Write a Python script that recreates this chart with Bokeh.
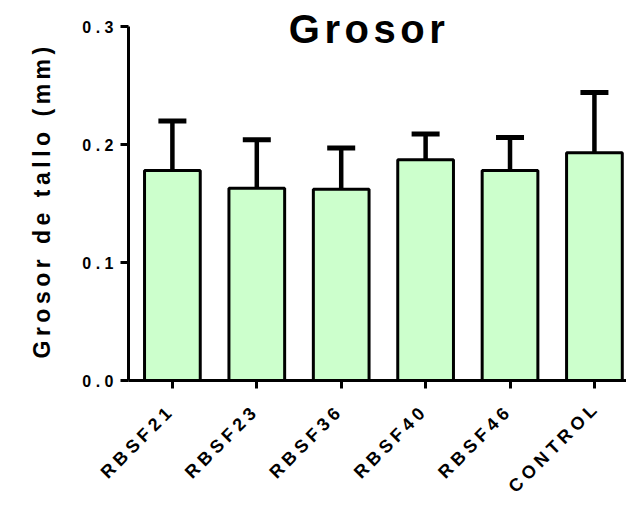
import math
from bokeh.plotting import figure
from bokeh.models import (FixedTicker, Whisker, TeeHead, ColumnDataSource, Label, Title,
                          InlineStyleSheet, PrintfTickFormatter, Range1d, LinearAxis)
from bokeh.embed import file_html
from bokeh.resources import INLINE

# ---- data ----
categories = ["RBSF21", "RBSF23", "RBSF36", "RBSF40", "RBSF46", "CONTROL"]
means = [0.178, 0.163, 0.162, 0.187, 0.178, 0.193]
sds = [0.042, 0.041, 0.035, 0.022, 0.028, 0.051]
y_ticks = [0.0, 0.1, 0.2, 0.3]
title_text = "Grosor"
y_label = "Grosor de tallo (mm)"

FONT = "Liberation Sans"
LS = 4.5  # letter spacing (px)
X0, X1 = -0.52, 5.38
Y_MAX = 0.3
Y_TOP = Y_MAX + 24 / 1180  # room above the axis end for the title
PX_PER_CAT = 498 / (X1 - X0)
# rendered labels run past Bokeh's measured width by the letter spacing; shift them back
shift = (4 + 5 * LS * math.cos(math.pi / 4)) / PX_PER_CAT

xs = list(range(len(categories)))
upper = [m + s for m, s in zip(means, sds)]
src = ColumnDataSource(dict(x=xs, top=means, upper=upper))

p = figure(width=626, height=507, output_backend="svg", toolbar_location=None,
           x_range=Range1d(X0, X1), y_range=Range1d(0, Y_TOP))
p.extra_x_ranges = {"lab": Range1d(X0 + shift, X1 + shift)}
p.min_border_left = 128
p.min_border_right = 0
p.min_border_top = 2
p.min_border_bottom = 127
p.outline_line_color = None
p.xgrid.visible = False
p.ygrid.visible = False
p.background_fill_color = "white"
p.stylesheets = [InlineStyleSheet(css=":host { letter-spacing: %.1fpx; }" % LS)]

p.vbar(x="x", top="top", bottom=0, width=0.66, source=src,
       fill_color="#CCFFCC", line_color="black", line_width=3)

w = Whisker(base="x", upper="upper", lower="top", source=src,
            line_color="black", line_width=4.5,
            upper_head=TeeHead(size=28, line_width=5, line_color="black"),
            lower_head=None, level="underlay")
p.add_layout(w)

# axes
for ax in (p.xaxis[0], p.yaxis[0]):
    ax.axis_line_width = 3
    ax.axis_line_color = "black"
    ax.major_tick_line_width = 3
    ax.major_tick_out = 8
    ax.major_tick_in = 0
    ax.minor_tick_line_color = None
    ax.major_label_text_font = FONT
    ax.major_label_text_font_style = "bold"
    ax.major_label_text_color = "black"

p.yaxis.ticker = FixedTicker(ticks=y_ticks)
p.yaxis.bounds = (0, Y_MAX)
p.yaxis.formatter = PrintfTickFormatter(format="%.1f")
p.yaxis.major_label_text_font_size = "16px"
p.yaxis.major_label_standoff = 16

p.xaxis.ticker = FixedTicker(ticks=xs)
p.xaxis.major_label_overrides = {i: "" for i in xs}
p.xaxis.major_label_text_font_size = "1px"
p.xaxis.major_label_standoff = 0

lab_axis = LinearAxis(x_range_name="lab", ticker=FixedTicker(ticks=xs),
                      major_label_overrides={i: c for i, c in zip(xs, categories)},
                      axis_line_color=None, major_tick_line_color=None,
                      minor_tick_line_color=None, major_tick_out=0, major_tick_in=0,
                      major_label_orientation=math.pi / 4, major_label_standoff=38,
                      major_label_text_font=FONT, major_label_text_font_style="bold",
                      major_label_text_font_size="18px", major_label_text_color="black")
p.add_layout(lab_axis, "below")

ylab = Title(text=y_label, align="left", offset=22, standoff=50,
             text_font=FONT, text_font_style="bold", text_font_size="23px",
             text_color="black")
p.add_layout(ylab, "left")

title = Label(x=2.17, y=0.2983, text=title_text, text_align="center",
              text_baseline="alphabetic", text_font=FONT, text_font_style="bold",
              text_font_size="40px", text_color="black")
p.add_layout(title)

open("out.html", "w").write(file_html(p, INLINE))
